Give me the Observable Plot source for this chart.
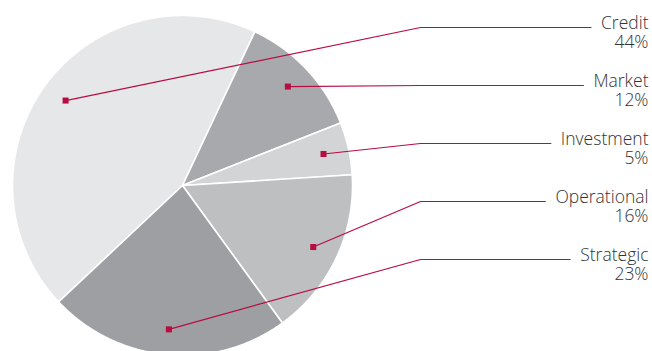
<!DOCTYPE html>
<html>
<head>
<meta charset="utf-8">
<script src="https://cdn.jsdelivr.net/npm/d3@7"></script>
<script src="https://cdn.jsdelivr.net/npm/@observablehq/plot@0.6"></script>
<style>
  html, body { margin: 0; padding: 0; background: #fff; overflow: hidden; }
  #chart svg { display: block; overflow: hidden; }
</style>
</head>
<body>
<div id="chart"></div>
<script>
// ---- data ----
const categories = ["Credit", "Market", "Investment", "Operational", "Strategic"];
const shares = [44, 12, 5, 16, 23];
const percentLabels = ["44%", "12%", "5%", "16%", "23%"];
const sliceColors = ["#e6e7e8", "#a8a9ac", "#d3d4d5", "#bebfc1", "#9e9fa2"];

// ---- layout ----
const W = 652, H = 351;
const cx = 182, cy = 185, R = 170;
const startDeg = -133.2;        // where the first slice (Credit) begins, clockwise from 12 o'clock
const markerR = 0.85;           // marker radius as a fraction of R
const elbowX = 420, rowTop = 27, rowStep = 58, labelRight = 648, gap = 10;
const accent = "#b80d41";
const fontSize = 17.5, fontWeight = 350, fontFamily = "'Open Sans', 'Noto Sans', sans-serif";

const rad = d => d * Math.PI / 180;
const total = d3.sum(shares);
let acc = 0;
const slices = categories.map((name, i) => {
  const a0 = startDeg + acc / total * 360;
  acc += shares[i];
  const a1 = startDeg + acc / total * 360;
  return {name, i, a0, a1};
});

const piePts = [];
for (const s of slices) {
  piePts.push({name: s.name, x: cx, y: cy});
  const n = Math.ceil((s.a1 - s.a0) / 0.5);
  for (let k = 0; k <= n; k++) {
    const a = rad(s.a0 + (s.a1 - s.a0) * k / n);
    piePts.push({name: s.name, x: cx + R * Math.sin(a), y: cy - R * Math.cos(a)});
  }
  piePts.push({name: s.name, x: cx, y: cy});
}

const ctx = document.createElement("canvas").getContext("2d");
ctx.font = `${fontWeight} ${fontSize}px ${fontFamily}`;

const markers = slices.map(s => {
  const a = rad((s.a0 + s.a1) / 2);
  return {name: s.name, x: cx + markerR * R * Math.sin(a), y: cy - markerR * R * Math.cos(a)};
});

const leaderPts = [];
const labels = [];
slices.forEach((s, i) => {
  const rowY = rowTop + rowStep * i;
  const tw = Math.max(ctx.measureText(categories[i]).width, ctx.measureText(percentLabels[i]).width);
  leaderPts.push({name: s.name, x: markers[i].x, y: markers[i].y});
  leaderPts.push({name: s.name, x: elbowX, y: rowY});
  leaderPts.push({name: s.name, x: labelRight - tw - gap, y: rowY});
  labels.push({text: categories[i] + "\n" + percentLabels[i], x: labelRight, y: rowY + 20});
});

const chart = Plot.plot({
  width: W,
  height: H,
  margin: 0,
  x: {domain: [0, W], axis: null},
  y: {domain: [0, H], reverse: true, axis: null},
  color: {domain: categories, range: sliceColors},
  style: {background: "#fff", overflow: "hidden"},
  marks: [
    Plot.line(piePts, {x: "x", y: "y", z: "name", fill: "name", stroke: "#fff", strokeWidth: 1.6, strokeLinejoin: "round", curve: "linear"}),
    Plot.line(leaderPts, {x: "x", y: "y", z: "name", stroke: accent, strokeWidth: 1.2, curve: "linear"}),
    Plot.dot(markers, {x: "x", y: "y", symbol: "square", r: 3.4, fill: accent, stroke: null}),
    Plot.text(labels, {x: "x", y: "y", text: "text", textAnchor: "end", lineAnchor: "bottom", lineHeight: 19 / fontSize, fontSize: fontSize, fontWeight: fontWeight, fontFamily: fontFamily, fill: "#333333"})
  ]
});
document.getElementById("chart").appendChild(chart);
</script>
</body>
</html>
